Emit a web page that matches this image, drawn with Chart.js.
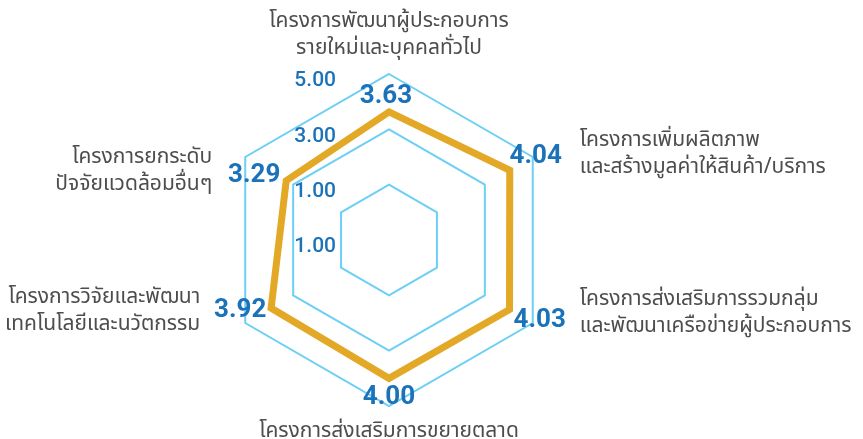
<!DOCTYPE html>
<html>
<head>
<meta charset="utf-8">
<script src="https://cdn.jsdelivr.net/npm/chart.js@4.4.1/dist/chart.umd.min.js"></script>
<style>
  html, body { margin: 0; padding: 0; background: #fff; }
  #wrap { width: 863px; height: 439px; position: relative; }
</style>
</head>
<body>
<div id="wrap"><canvas id="radarChart"></canvas></div>
<script>
// Data
const categories = [
    ['โครงการพัฒนาผู้ประกอบการ', 'รายใหม่และบุคคลทั่วไป'],
    ['โครงการเพิ่มผลิตภาพ', 'และสร้างมูลค่าให้สินค้า/บริการ'],
    ['โครงการส่งเสริมการรวมกลุ่ม', 'และพัฒนาเครือข่ายผู้ประกอบการ'],
    ['โครงการส่งเสริมการขยายตลาด'],
    ['โครงการวิจัยและพัฒนา', 'เทคโนโลยีและนวัตกรรม'],
    ['โครงการยกระดับ', 'ปัจจัยแวดล้อมอื่นๆ']
];
const scores = [3.63, 4.04, 4.03, 4.00, 3.92, 3.29];
const tickValues = [-1, 1, 3, 5];

const blue = '#1b72b8';
const grey = '#4d4d4d';
const thaiFont = "'Noto Sans Thai', 'Noto Sans', sans-serif";

// Nudges for the value labels (px), relative to the outer ring vertex
const valueNudge = [[-3, 22], [3, -1], [7, -3], [0, -9], [-5, -13], [9, 18]];
// Category label placement relative to the outer ring vertex
const catPlace = [
    { dx: 0, dy: -51, align: 'center' },
    { dx: 47, dy: -15, align: 'left' },
    { dx: 47, dy: -22, align: 'left' },
    { dx: 0, dy: 27, align: 'center' },
    { dx: -45, dy: -24, align: 'right' },
    { dx: -33, dy: 2, align: 'right' }
];

const labelsPlugin = {
    id: 'customLabels',
    afterDraw(chart) {
        const ctx = chart.ctx;
        const scale = chart.scales.r;
        ctx.save();

        // Tick labels to the left of the vertical axis
        ctx.font = "500 21px Roboto, sans-serif";
        ctx.fillStyle = blue;
        ctx.textAlign = 'right';
        ctx.textBaseline = 'middle';
        tickValues.forEach(v => {
            const p = scale.getPointPositionForValue(0, v);
            ctx.fillText(Math.abs(v).toFixed(2), scale.xCenter - 53, p.y + 7);
        });

        // Score labels
        ctx.font = "bold 26px Roboto, sans-serif";
        ctx.textAlign = 'center';
        scores.forEach((s, i) => {
            const p = scale.getPointPosition(i, scale.drawingArea);
            ctx.fillText(s.toFixed(2), p.x + valueNudge[i][0], p.y + valueNudge[i][1]);
        });

        // Category labels
        ctx.font = "21px " + thaiFont;
        ctx.fillStyle = grey;
        categories.forEach((lines, i) => {
            const p = scale.getPointPosition(i, scale.drawingArea);
            const place = catPlace[i];
            ctx.textAlign = place.align;
            lines.forEach((line, j) => {
                ctx.fillText(line, p.x + place.dx, p.y + place.dy + j * 27);
            });
        });
        ctx.restore();
    }
};

new Chart(document.getElementById('radarChart'), {
    type: 'radar',
    data: {
        labels: categories,
        datasets: [{
            data: scores,
            borderColor: '#e2a826',
            borderWidth: 7,
            borderJoinStyle: 'miter',
            fill: false,
            pointRadius: 0,
            tension: 0
        }]
    },
    options: {
        responsive: true,
        maintainAspectRatio: false,
        animation: false,
        layout: {
            padding: { left: 223, right: 308, top: 74, bottom: 33 }
        },
        plugins: {
            legend: { display: false },
            tooltip: { enabled: false }
        },
        scales: {
            r: {
                min: -1,
                max: 5,
                ticks: { stepSize: 2, display: false },
                angleLines: { display: false },
                pointLabels: { display: false },
                grid: { color: '#6ccff5', lineWidth: 2 }
            }
        }
    },
    plugins: [labelsPlugin]
});
</script>
</body>
</html>
